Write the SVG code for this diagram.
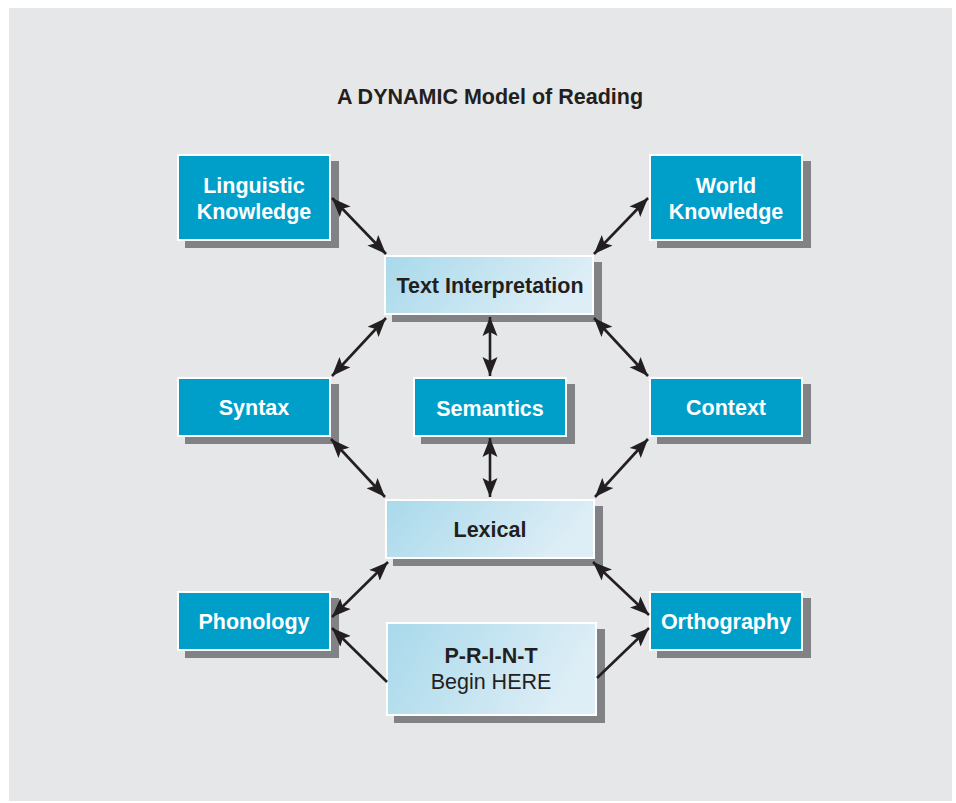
<svg xmlns="http://www.w3.org/2000/svg" width="956" height="803" viewBox="0 0 956 803">
  <defs>
    <linearGradient id="pale" x1="0" y1="0" x2="1" y2="0.25">
      <stop offset="0" stop-color="#a8d9eb"/>
      <stop offset="1" stop-color="#deeef6"/>
    </linearGradient>
    <marker id="head" viewBox="0 0 20 16" markerWidth="20" markerHeight="16" refX="19" refY="8" orient="auto-start-reverse" markerUnits="userSpaceOnUse">
      <path d="M0,0.5 L19,8 L0,15.5 L4,8 z" fill="#231f20"/>
    </marker>
    <style>
      .shadow { fill: #808285; }
      .blue { fill: #009fca; stroke: #ffffff; stroke-width: 2; }
      .pale { fill: url(#pale); stroke: #ffffff; stroke-width: 2; }
      .lbl { font-family: "Liberation Sans", Arial, sans-serif; font-size: 21.5px; font-weight: bold; text-anchor: middle; }
      .wt { fill: #ffffff; }
      .dk { fill: #231f20; }
      .reg { font-weight: normal; }
      .conn line { stroke: #231f20; stroke-width: 2.6; }
      .both { marker-start: url(#head); marker-end: url(#head); }
      .one { marker-end: url(#head); }
    </style>
  </defs>

  <!-- backdrop panel -->
  <rect x="0" y="0" width="956" height="803" fill="#ffffff"/>
  <rect x="9" y="8" width="943" height="793" fill="#e6e7e8"/>

  <text class="lbl dk" x="490" y="104">A DYNAMIC Model of Reading</text>

  <g id="linguistic-knowledge">
    <rect class="shadow" x="185" y="161" width="154" height="87"/>
    <rect class="blue" x="178" y="155" width="152" height="85"/>
    <text class="lbl wt" x="254" y="193">Linguistic</text>
    <text class="lbl wt" x="254" y="218.5">Knowledge</text>
  </g>

  <g id="world-knowledge">
    <rect class="shadow" x="657" y="161" width="154" height="87"/>
    <rect class="blue" x="650" y="155" width="152" height="85"/>
    <text class="lbl wt" x="726" y="193">World</text>
    <text class="lbl wt" x="726" y="218.5">Knowledge</text>
  </g>

  <g id="text-interpretation">
    <rect class="shadow" x="392" y="262" width="210" height="60"/>
    <rect class="pale" x="385" y="256" width="208" height="58"/>
    <text class="lbl dk" x="490" y="293">Text Interpretation</text>
  </g>

  <g id="syntax">
    <rect class="shadow" x="185" y="384" width="154" height="60"/>
    <rect class="blue" x="178" y="378" width="152" height="58"/>
    <text class="lbl wt" x="254" y="415">Syntax</text>
  </g>

  <g id="semantics">
    <rect class="shadow" x="421" y="384" width="154" height="60"/>
    <rect class="blue" x="414" y="378" width="152" height="58"/>
    <text class="lbl wt" x="490" y="415.5">Semantics</text>
  </g>

  <g id="context">
    <rect class="shadow" x="657" y="384" width="154" height="60"/>
    <rect class="blue" x="650" y="378" width="152" height="58"/>
    <text class="lbl wt" x="726" y="415">Context</text>
  </g>

  <g id="lexical">
    <rect class="shadow" x="393" y="506" width="210" height="60"/>
    <rect class="pale" x="386" y="500" width="208" height="58"/>
    <text class="lbl dk" x="490" y="537">Lexical</text>
  </g>

  <g id="phonology">
    <rect class="shadow" x="185" y="598" width="154" height="60"/>
    <rect class="blue" x="178" y="592" width="152" height="58"/>
    <text class="lbl wt" x="254" y="628.5">Phonology</text>
  </g>

  <g id="orthography">
    <rect class="shadow" x="657" y="598" width="154" height="60"/>
    <rect class="blue" x="650" y="592" width="152" height="58"/>
    <text class="lbl wt" x="726" y="628.5">Orthography</text>
  </g>

  <g id="print">
    <rect class="shadow" x="394" y="629" width="211" height="94"/>
    <rect class="pale" x="387" y="623" width="209" height="92"/>
    <text class="lbl dk" x="491" y="663">P-R-I-N-T</text>
    <text class="lbl dk reg" x="491" y="689">Begin HERE</text>
  </g>

  <g id="connectors" class="conn">
    <line class="both" x1="332" y1="198" x2="386" y2="254"/>
    <line class="both" x1="648" y1="198" x2="594" y2="254"/>
    <line class="both" x1="386" y1="318" x2="332" y2="376"/>
    <line class="both" x1="490" y1="317" x2="490" y2="376"/>
    <line class="both" x1="594" y1="318" x2="648" y2="376"/>
    <line class="both" x1="331" y1="439" x2="385" y2="497"/>
    <line class="both" x1="490" y1="438" x2="490" y2="497"/>
    <line class="both" x1="648" y1="439" x2="595" y2="497"/>
    <line class="both" x1="388" y1="562" x2="332" y2="617"/>
    <line class="both" x1="593" y1="562" x2="649" y2="615"/>
    <line class="one" x1="387" y1="682" x2="332" y2="628"/>
    <line class="one" x1="597" y1="678" x2="649" y2="628"/>
  </g>
</svg>
